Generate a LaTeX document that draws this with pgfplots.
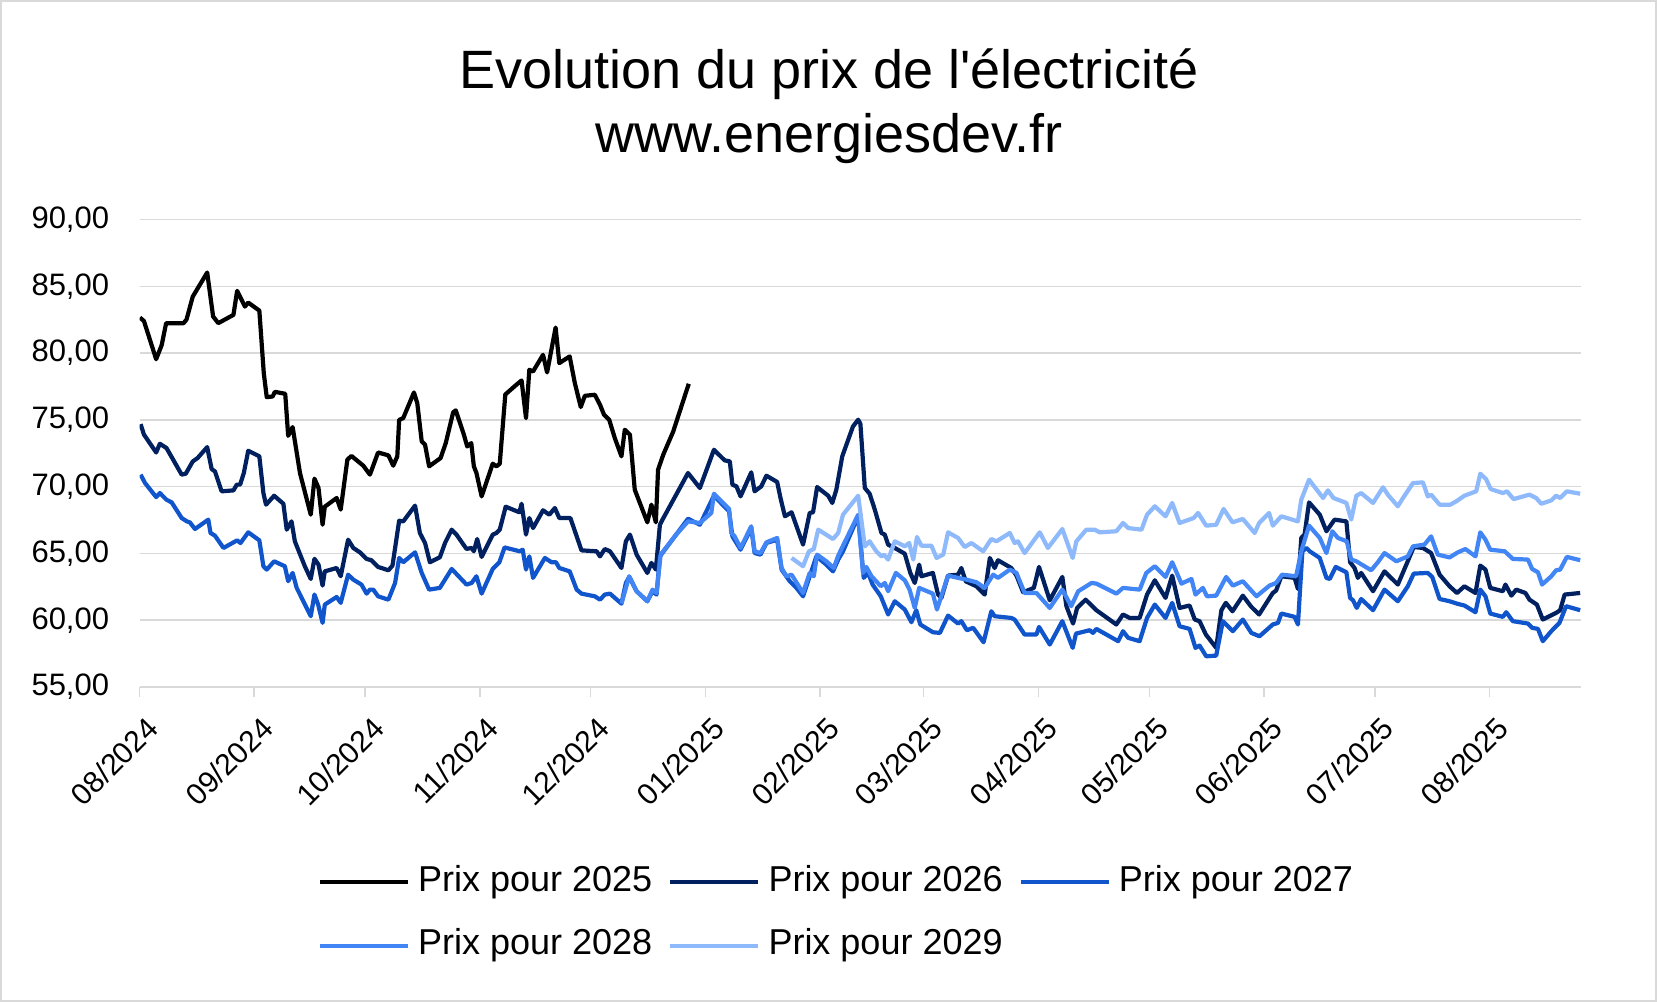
\documentclass[border=0pt]{standalone}
\usepackage{fontspec}
\setmainfont{Liberation Sans}
\usepackage{pgfplots}
\pgfplotsset{compat=1.18}

\definecolor{c2026}{RGB}{0,32,96}
\definecolor{c2027}{RGB}{17,85,204}
\definecolor{c2028}{RGB}{66,133,244}
\definecolor{c2029}{RGB}{142,185,250}
\definecolor{gridgray}{RGB}{217,217,217}

\begin{document}
\begin{tikzpicture}
\path[use as bounding box] (0,0) rectangle (828.5pt,501pt);
\draw[gridgray, line width=1pt] (0.5pt,0.5pt) rectangle (828pt,500.5pt);

% title
\node[anchor=base, font=\fontsize{27}{32}\selectfont] at (414.5pt,456.5pt) {Evolution du prix de l\textquotesingle électricité};
\node[anchor=base, font=\fontsize{27}{32}\selectfont] at (414.5pt,424.5pt) {www.energiesdev.fr};

\begin{axis}[
  at={(69.75pt,157.5pt)}, anchor=south west,
  scale only axis, width=720.5pt, height=233.75pt,
  xmin=0, xmax=389.6, ymin=55, ymax=90,
  ytick={55,60,...,90},
  xtick={0,31,61,92,122,153,184,212,243,273,304,334,365},
  xticklabels={08/2024,09/2024,10/2024,11/2024,12/2024,01/2025,02/2025,03/2025,04/2025,05/2025,06/2025,07/2025,08/2025},
  axis lines*=left,
  y axis line style={draw=none},
  x axis line style={gridgray, line width=0.75pt},
  ymajorgrids, grid style={gridgray, line width=0.75pt},
  tick align=outside,
  major tick length=5pt,
  x tick style={gridgray, line width=0.75pt},
  y tick style={draw=none},
  /pgf/number format/.cd, use comma, fixed, fixed zerofill, precision=2, 1000 sep={}, assume math mode=true,
  /pgfplots/.cd,
  yticklabel style={font=\fontsize{15.5}{18}\selectfont, inner sep=0pt, anchor=east, xshift=-10pt},
  xticklabel style={font=\fontsize{15}{18}\selectfont, inner sep=0pt, rotate=45, anchor=north east, xshift=-4.35pt, yshift=-8.15pt},
  every axis plot/.append style={line width=2.1pt, line join=round, mark=none},
  legend columns=3,
  legend image code/.code={\draw[#1, line width=2.1pt] (0pt,0pt) -- (44pt,0pt);},
  legend style={at={(axis description cs:0.1194,-0.3718)}, anchor=north west,
    draw=none, fill=none, font=\fontsize{18}{21}\selectfont,
    nodes={inner sep=0pt, text height=13pt, text depth=4pt},
    row sep=14.8pt,
    /tikz/every odd column/.append style={column sep=4pt},
    /tikz/every even column/.append style={column sep=8pt}},
  legend cell align=left,
]
% Prix pour 2025
\addplot[black] coordinates {
(0.1,82.66) (1.2,82.4) (4.5,79.54) (6.0,80.6) (7.2,82.24) (11.9,82.24) (12.7,82.5) (14.4,84.23)
(18.3,86.03) (19.9,82.74) (21.3,82.24) (25.4,82.86) (26.4,84.66) (28.5,83.48) (29.4,83.78) (32.4,83.18)
(33.6,78.5) (34.4,76.7) (36.0,76.75) (36.6,77.1) (39.4,76.95) (40.2,73.8) (41.4,74.46) (43.4,71.0)
(46.3,67.9) (47.3,70.6) (48.4,69.9) (49.5,67.15) (50.1,68.5) (53.3,69.15) (54.4,68.28) (56.2,72.02)
(57.3,72.3) (60.5,71.57) (62.3,70.9) (64.5,72.56) (67.3,72.34) (68.6,71.57) (69.7,72.27) (70.2,75.0)
(71.3,75.13) (74.2,77.05) (75.1,76.25) (76.3,73.39) (77.2,73.14) (78.3,71.52) (81.4,72.14) (82.8,73.26)
(84.8,75.56) (85.5,75.71) (87.7,73.89) (88.6,73.01) (89.7,73.26) (90.4,71.52) (91.1,71.02) (92.5,69.27)
(95.5,71.72) (96.5,71.52) (97.4,71.72) (98.9,76.9) (101.9,77.63) (103.3,77.95) (104.5,75.13) (105.4,78.75)
(106.4,78.62) (109.1,79.87) (110.2,78.55) (112.5,81.91) (113.5,79.25) (116.3,79.75) (117.7,77.75) (119.3,75.96)
(120.4,76.8) (123.1,76.88) (124.5,76.13) (125.6,75.38) (127.0,75.0) (128.5,73.64) (130.3,72.27) (131.2,74.26)
(132.6,73.89) (133.9,69.77) (137.3,67.33) (138.4,68.65) (139.6,67.33) (140.2,71.27) (141.6,72.39) (144.3,74.13)
(148.5,77.7)
};
\addlegendentry{Prix pour 2025}
% Prix pour 2026
\addplot[c2026] coordinates {
(0.3,74.68) (1.2,73.9) (4.5,72.56) (5.5,73.21) (7.3,72.89) (9.1,72.02) (11.4,70.9) (12.5,70.97)
(14.4,71.89) (15.7,72.14) (18.3,72.96) (19.5,71.32) (20.4,71.14) (22.2,69.65) (25.4,69.72) (26.3,70.15)
(27.2,70.15) (28.2,71.02) (29.4,72.69) (32.4,72.27) (33.5,69.52) (34.2,68.65) (36.4,69.32) (38.9,68.72)
(39.8,66.78) (41.1,67.4) (42.0,65.91) (44.7,64.04) (46.3,63.09) (47.3,64.6) (48.4,64.16) (49.5,62.59)
(50.1,63.66) (53.3,63.91) (54.4,63.29) (56.4,66.03) (57.8,65.41) (59.6,65.08) (61.4,64.59) (62.7,64.49)
(64.5,63.99) (67.3,63.74) (68.4,64.09) (70.2,67.45) (71.3,67.4) (74.5,68.58) (75.8,66.53) (77.2,65.78)
(78.5,64.34) (81.2,64.71) (82.6,65.78) (84.4,66.78) (85.7,66.41) (88.4,65.34) (89.8,65.41) (90.4,65.16)
(91.3,66.08) (92.5,64.74) (95.5,66.41) (96.5,66.53) (97.4,66.78) (99.0,68.5) (102.7,68.08) (103.3,68.72)
(104.5,66.41) (105.4,67.65) (106.4,66.9) (109.1,68.23) (110.8,67.9) (112.3,68.4) (113.5,67.65) (116.5,67.65)
(119.5,65.23) (123.6,65.16) (124.5,64.78) (125.8,65.33) (127.2,65.16) (130.3,63.91) (131.5,65.91) (132.6,66.41)
(134.4,64.91) (137.3,63.54) (138.4,64.29) (139.6,63.79) (140.7,67.15) (141.4,67.53) (148.3,71.02) (151.5,69.9)
(155.3,72.76) (158.2,71.97) (159.6,71.89) (160.3,70.15) (161.4,70.02) (162.5,69.27) (165.4,71.07) (166.3,69.65)
(168.1,70.02) (169.5,70.82) (172.4,70.35) (173.3,69.15) (174.5,67.78) (176.3,68.08) (179.4,65.66) (181.2,68.03)
(182.1,68.08) (183.2,69.97) (186.2,69.32) (187.3,68.78) (188.4,69.77) (190.0,72.27) (192.9,74.51) (194.3,75.01)
(194.9,74.71) (196.1,69.9) (197.4,69.47) (198.8,68.28) (200.6,66.53) (201.5,66.41) (202.4,65.66) (204.2,65.41)
(206.9,64.98) (208.4,63.54) (209.6,62.79) (210.8,64.16) (211.4,63.29) (214.5,63.54) (215.9,61.92) (216.8,61.67)
(218.6,63.34) (221.3,63.41) (222.2,63.91) (223.4,62.91) (226.3,62.54) (228.5,61.92) (229.9,64.66) (231.2,63.91)
(232.1,64.49) (235.7,63.91) (237.1,63.34) (238.9,62.09) (241.8,62.42) (243.2,63.99) (246.1,61.49) (249.5,63.24)
(250.6,61.05) (252.4,59.75) (253.5,60.92) (255.8,61.54) (258.7,60.75) (264.1,59.68) (265.9,60.43) (267.7,60.17)
(270.4,60.17) (272.4,61.92) (274.5,62.99) (277.4,61.67) (279.2,63.34) (281.2,60.92) (283.9,61.1) (285.3,60.05)
(286.6,59.93) (288.3,58.93) (291.1,57.93) (292.5,60.75) (293.7,61.3) (295.5,60.67) (298.3,61.84) (300.6,61.0)
(302.7,60.43) (306.4,62.04) (307.3,62.22) (308.7,63.29) (312.3,63.17) (313.2,62.34) (314.1,66.16) (315.0,66.41)
(316.2,68.82) (319.1,67.9) (320.9,66.66) (323.1,67.53) (326.3,67.4) (327.3,64.34) (328.5,63.91) (329.4,63.17)
(330.3,63.54) (333.5,62.17) (335.3,63.04) (336.6,63.66) (340.2,62.67) (342.5,64.16) (344.5,65.48) (347.0,65.41)
(349.2,65.03) (351.5,63.41) (354.2,62.54) (356.2,62.04) (358.2,62.54) (361.2,62.04) (362.5,64.09) (363.9,63.79)
(365.2,62.42) (368.6,62.17) (369.3,62.67) (370.9,61.84) (372.2,62.29) (374.7,62.04) (375.8,61.54) (377.8,61.17)
(379.4,60.05) (383.0,60.55) (384.1,60.75) (385.3,61.92) (389.5,62.04)
};
\addlegendentry{Prix pour 2026}
% Prix pour 2027
\addplot[c2027] coordinates {
(0.3,70.9) (1.5,70.27) (4.5,69.22) (5.5,69.52) (7.3,69.02) (8.7,68.82) (11.4,67.65) (12.8,67.4)
(13.6,67.33) (15.0,66.83) (18.6,67.53) (19.2,66.53) (20.4,66.33) (22.7,65.41) (26.4,65.98) (27.3,65.78)
(29.4,66.58) (32.4,65.98) (33.5,64.04) (34.4,63.79) (36.4,64.41) (39.3,64.04) (40.2,62.92) (41.4,63.54)
(42.5,62.42) (46.3,60.3) (47.3,61.92) (48.3,61.17) (49.5,59.8) (50.1,61.17) (53.3,61.74) (54.4,61.3)
(56.4,63.41) (57.8,63.04) (60.0,62.67) (61.4,61.99) (62.3,62.29) (63.2,62.29) (64.5,61.79) (67.3,61.54)
(69.1,62.79) (70.2,64.66) (71.3,64.34) (74.5,65.08) (76.3,63.54) (78.3,62.29) (81.2,62.42) (84.4,63.84)
(88.4,62.67) (89.8,62.79) (91.1,63.29) (92.5,61.99) (95.5,63.84) (97.3,64.34) (98.7,65.45) (102.8,65.16)
(103.6,65.28) (104.5,63.79) (105.4,64.78) (106.4,63.17) (109.6,64.66) (111.4,64.34) (112.6,64.34) (113.5,63.91)
(116.3,63.66) (118.2,62.29) (119.5,61.99) (123.1,61.79) (124.5,61.54) (125.8,61.92) (127.2,61.99) (130.3,61.24)
(131.5,62.79) (132.4,63.24) (134.4,62.17) (137.3,61.42) (138.7,62.17) (139.8,61.92) (140.7,64.78) (148.3,67.6)
(151.5,67.15) (155.3,69.32) (159.4,68.15) (160.3,66.28) (162.5,65.28) (165.4,66.9) (166.3,65.03) (167.9,64.91)
(169.5,65.78) (172.4,66.03) (173.6,63.79) (175.8,62.92) (177.6,62.42) (179.4,61.79) (181.2,63.29) (183.0,64.78)
(185.7,64.16) (187.5,63.66) (188.9,64.54) (190.2,65.16) (194.3,67.78) (195.8,63.17) (197.0,63.54) (198.2,62.67)
(200.4,61.8) (202.4,60.43) (204.2,61.42) (206.9,60.8) (208.7,59.85) (210.0,60.75) (211.1,59.68) (214.5,59.1)
(216.4,59.05) (218.6,60.35) (221.3,59.75) (222.2,59.93) (223.7,59.25) (225.4,59.43) (228.2,58.35) (230.3,60.67)
(231.2,60.3) (235.7,60.17) (236.6,60.05) (239.3,58.93) (242.5,58.93) (243.2,59.5) (246.1,58.18) (249.5,59.93)
(252.3,57.93) (253.2,59.0) (256.9,59.25) (257.8,59.05) (258.7,59.35) (264.6,58.43) (265.9,59.18) (267.3,58.68)
(270.4,58.43) (272.4,60.17) (274.5,61.17) (277.4,60.17) (279.2,61.3) (281.2,59.55) (283.9,59.35) (285.5,57.93)
(286.6,58.1) (288.4,57.3) (291.1,57.35) (292.9,59.93) (295.6,59.18) (298.3,60.05) (300.6,59.05) (302.8,58.8)
(306.4,59.68) (307.8,59.8) (308.7,60.5) (312.3,60.25) (313.2,59.68) (314.4,65.16) (315.5,65.41) (316.4,65.16)
(319.1,64.66) (320.9,63.17) (321.8,63.09) (323.4,63.99) (326.3,63.59) (327.3,61.67) (328.1,61.49) (329.1,60.92)
(330.3,61.59) (333.5,60.75) (336.6,62.29) (340.2,61.42) (342.9,62.54) (344.5,63.49) (348.3,63.54) (349.5,63.24)
(351.5,61.59) (354.2,61.42) (356.2,61.24) (358.2,61.1) (361.2,60.6) (362.5,62.29) (363.9,61.79) (365.2,60.5)
(368.6,60.25) (369.5,60.6) (371.3,59.93) (375.4,59.75) (376.5,59.43) (378.1,59.35) (379.4,58.43) (381.7,59.18)
(383.9,59.8) (385.7,61.05) (389.5,60.75)
};
\addlegendentry{Prix pour 2027}
% Prix pour 2028
\addplot[c2028] coordinates {
(130.3,61.24) (132.4,63.29) (134.4,62.17) (137.3,61.42) (138.7,62.29) (139.8,62.04) (140.9,64.91) (144.7,66.28)
(148.3,67.4) (151.5,67.28) (154.6,68.03) (155.3,69.47) (156.9,69.02) (159.4,68.33) (160.0,66.53) (160.9,66.28)
(162.5,65.41) (165.4,67.03) (166.3,65.16) (167.9,65.03) (169.5,65.83) (172.4,66.16) (173.6,63.91) (174.9,63.29)
(176.3,63.41) (179.4,62.04) (181.2,63.54) (182.3,63.29) (183.2,64.91) (185.7,64.41) (187.7,63.91) (188.9,64.83)
(190.2,65.58) (194.3,67.9) (195.6,63.54) (196.5,63.99) (197.9,63.29) (200.4,62.55) (201.5,62.79) (202.4,62.17)
(204.5,63.54) (206.9,62.99) (208.2,62.29) (209.6,60.92) (210.8,62.42) (214.5,61.99) (215.6,60.8) (218.6,63.34)
(221.3,63.17) (223.6,63.04) (226.3,62.84) (228.5,62.42) (230.8,63.41) (232.1,63.17) (235.3,63.79) (237.1,63.54)
(239.3,62.04) (242.5,62.04) (246.1,60.92) (249.5,62.29) (251.9,61.05) (253.8,62.17) (257.4,62.79) (258.7,62.74)
(264.1,61.99) (265.9,62.42) (270.4,62.29) (272.2,63.54) (274.5,64.04) (277.4,63.24) (279.2,64.34) (281.7,62.74)
(284.4,63.09) (285.5,61.92) (287.5,62.42) (288.6,61.79) (291.1,61.84) (293.8,63.24) (295.6,62.59) (298.3,62.92)
(302.0,61.79) (305.5,62.59) (307.3,62.79) (308.9,63.41) (312.7,63.29) (314.1,65.16) (316.2,67.08) (319.1,66.16)
(320.9,65.03) (322.5,66.66) (324.0,66.16) (326.4,65.91) (327.6,64.54) (329.0,64.41) (333.0,63.74) (334.8,64.34)
(336.6,65.03) (339.8,64.41) (342.9,64.78) (344.3,65.53) (347.4,65.66) (349.2,66.28) (351.0,64.91) (354.2,64.7)
(356.4,65.08) (358.5,65.33) (361.2,64.78) (362.5,66.58) (363.9,66.03) (365.2,65.28) (369.1,65.16) (371.3,64.59)
(375.4,64.54) (376.5,63.84) (378.1,63.59) (379.2,62.67) (381.7,63.29) (383.0,63.74) (384.1,63.79) (385.9,64.74)
(389.5,64.49)
};
\addlegendentry{Prix pour 2028}
% Prix pour 2029
\addplot[c2029] coordinates {
(176.3,64.66) (179.4,64.04) (181.0,65.16) (182.3,65.33) (183.5,66.78) (187.5,66.08) (188.9,66.53) (190.2,67.9)
(194.3,69.32) (196.1,65.53) (197.4,65.91) (199.2,65.16) (200.6,64.78) (201.3,64.9) (202.4,64.54) (204.2,65.91)
(206.9,65.53) (208.1,65.78) (209.2,64.54) (210.2,66.23) (211.4,65.58) (214.1,65.58) (215.5,64.66) (217.3,64.91)
(218.6,66.58) (221.3,66.16) (223.1,65.48) (224.9,65.78) (228.1,65.16) (230.3,66.08) (231.7,65.91) (235.3,66.53)
(236.6,65.78) (237.5,65.91) (239.3,65.03) (243.4,66.58) (245.6,65.41) (249.5,66.83) (252.3,64.66) (253.3,65.91)
(256.0,66.78) (258.2,66.78) (259.6,66.58) (264.1,66.66) (265.9,67.28) (267.3,66.9) (270.9,66.78) (272.4,67.9)
(274.5,68.53) (277.4,67.78) (279.2,68.78) (281.2,67.28) (285.0,67.65) (286.2,68.03) (288.4,67.08) (291.1,67.15)
(293.1,68.33) (295.5,67.33) (298.3,67.58) (301.5,66.53) (302.7,67.28) (305.4,68.03) (306.4,67.08) (308.7,67.78)
(313.2,67.4) (314.1,69.02) (316.2,70.52) (320.0,69.15) (321.3,69.72) (322.8,69.15) (326.3,68.78) (327.6,67.53)
(329.0,69.32) (330.3,69.52) (333.5,68.78) (336.2,69.95) (337.5,69.4) (340.2,68.53) (341.6,69.15) (344.3,70.27)
(347.0,70.32) (348.3,69.27) (349.2,69.4) (351.5,68.65) (354.4,68.65) (356.0,68.9) (358.2,69.32) (361.4,69.65)
(362.5,70.97) (364.1,70.55) (365.3,69.82) (368.6,69.52) (369.7,69.65) (371.5,69.07) (375.8,69.4) (377.6,69.15)
(379.0,68.72) (381.7,68.97) (383.0,69.32) (384.1,69.15) (385.9,69.65) (389.5,69.47)
};
\addlegendentry{Prix pour 2029}
\end{axis}
\end{tikzpicture}
\end{document}
